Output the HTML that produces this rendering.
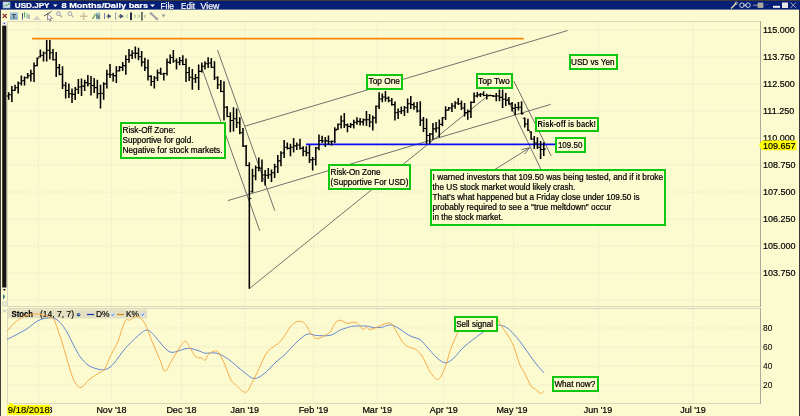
<!DOCTYPE html>
<html><head><meta charset="utf-8"><style>
html,body{margin:0;padding:0;width:800px;height:416px;overflow:hidden;background:#fcfbd0;}
body{position:relative;font-family:"Liberation Sans",sans-serif;}
#title{position:absolute;left:0;top:0;width:800px;height:10px;background:#051e76;border-top:1px solid #404040;box-sizing:border-box;}
#title span{position:absolute;top:0px;color:#fff;font-size:9px;line-height:9px;white-space:nowrap;}
svg{position:absolute;left:0;top:0;will-change:transform;}
.g{stroke:#e8e6c8;stroke-width:1;stroke-dasharray:1.25 1.25;}
.t{font-size:8.2px;fill:#000;stroke:#000;stroke-width:0.22px;}
.ax{font-size:9px;fill:#000;stroke:#000;stroke-width:0.2px;}
.ax2{font-size:8.4px;fill:#000;stroke:#000;stroke-width:0.05px;}
.dt{font-size:9px;fill:#000;stroke:#000;stroke-width:0.2px;}
.lg{font-size:8.4px;fill:#000;stroke:#000;stroke-width:0.15px;}
.tt{font-size:7.6px;fill:#fff;stroke:#fff;stroke-width:0.2px;}
</style></head><body>
<svg width="800" height="416" viewBox="0 0 800 416" style="top:0">
<rect x="0" y="10" width="800" height="406" fill="#fcfbd0"/>
<rect x="2.2" y="25.5" width="4.2" height="262" fill="#141414"/><rect x="2.2" y="21.7" width="4.2" height="3.6" fill="#e8e8f0"/><path d="M3.2 22.8H5.4L4.3 24.2Z" fill="#203080"/><path d="M2.8 289H5.8L4.3 291Z" fill="#202030"/><path d="M3 296.5L5 295V298Z" fill="#20a040"/><path d="M3.5 294.5V299" stroke="#3050a0" stroke-width="0.8"/><rect x="3" y="302" width="3" height="4" fill="none" stroke="#b8b8c8" stroke-width="0.7"/><path d="M3 309.5L6 312.5M6 309.5L3 312.5" stroke="#a8a8b8" stroke-width="0.8"/>
<rect x="0" y="0" width="1" height="416" fill="#404040"/>
<rect x="799" y="0" width="1" height="416" fill="#383838"/>
<line x1="8" y1="30.0" x2="760" y2="30.0" class="g"/>
<line x1="8" y1="57.0" x2="760" y2="57.0" class="g"/>
<line x1="8" y1="84.0" x2="760" y2="84.0" class="g"/>
<line x1="8" y1="111.0" x2="760" y2="111.0" class="g"/>
<line x1="8" y1="138.0" x2="760" y2="138.0" class="g"/>
<line x1="8" y1="165.0" x2="760" y2="165.0" class="g"/>
<line x1="8" y1="192.0" x2="760" y2="192.0" class="g"/>
<line x1="8" y1="219.0" x2="760" y2="219.0" class="g"/>
<line x1="8" y1="246.0" x2="760" y2="246.0" class="g"/>
<line x1="8" y1="273.0" x2="760" y2="273.0" class="g"/>
<line x1="8" y1="300.0" x2="760" y2="300.0" class="g"/>
<line x1="38.5" y1="22" x2="38.5" y2="306" class="g"/>
<line x1="38.5" y1="309" x2="38.5" y2="403" class="g"/>
<line x1="111.5" y1="22" x2="111.5" y2="306" class="g"/>
<line x1="111.5" y1="309" x2="111.5" y2="403" class="g"/>
<line x1="181.5" y1="22" x2="181.5" y2="306" class="g"/>
<line x1="181.5" y1="309" x2="181.5" y2="403" class="g"/>
<line x1="244.75" y1="22" x2="244.75" y2="306" class="g"/>
<line x1="244.75" y1="309" x2="244.75" y2="403" class="g"/>
<line x1="313.5" y1="22" x2="313.5" y2="306" class="g"/>
<line x1="313.5" y1="309" x2="313.5" y2="403" class="g"/>
<line x1="377.25" y1="22" x2="377.25" y2="306" class="g"/>
<line x1="377.25" y1="309" x2="377.25" y2="403" class="g"/>
<line x1="443.75" y1="22" x2="443.75" y2="306" class="g"/>
<line x1="443.75" y1="309" x2="443.75" y2="403" class="g"/>
<line x1="513.5" y1="22" x2="513.5" y2="306" class="g"/>
<line x1="513.5" y1="309" x2="513.5" y2="403" class="g"/>
<line x1="598.7" y1="22" x2="598.7" y2="306" class="g"/>
<line x1="598.7" y1="309" x2="598.7" y2="403" class="g"/>
<line x1="693" y1="22" x2="693" y2="306" class="g"/>
<line x1="693" y1="309" x2="693" y2="403" class="g"/>
<line x1="8" y1="328" x2="760" y2="328" class="g"/>
<line x1="8" y1="347" x2="760" y2="347" class="g"/>
<line x1="8" y1="366" x2="760" y2="366" class="g"/>
<line x1="8" y1="385" x2="760" y2="385" class="g"/>
<path d="M7.5 21.5H760.5M760.5 306.5H7.5V21.5" fill="none" stroke="#d9d8bc" stroke-width="1"/>
<path d="M7.5 308.5H760.5M760.5 403.5H7.5V308.5" fill="none" stroke="#d9d8bc" stroke-width="1"/>
<path d="M760.5 21V307M760.5 308V404" fill="none" stroke="#aaa99c" stroke-width="1"/>
<line x1="32" y1="38.6" x2="523.75" y2="38.6" stroke="#ff8800" stroke-width="1.8"/>
<line x1="217.5" y1="50" x2="274.75" y2="210.6" stroke="#585858" stroke-width="0.85"/>
<line x1="202" y1="68.5" x2="259.75" y2="230.8" stroke="#585858" stroke-width="0.85"/>
<line x1="227.9" y1="200.6" x2="550.6" y2="104.4" stroke="#585858" stroke-width="0.85"/>
<line x1="244.75" y1="126.25" x2="567.7" y2="30.5" stroke="#585858" stroke-width="0.85"/>
<line x1="249.5" y1="288.5" x2="486" y2="97.3" stroke="#585858" stroke-width="0.85"/>
<line x1="513.8" y1="81" x2="551.3" y2="156" stroke="#585858" stroke-width="0.85"/>
<line x1="507" y1="98.5" x2="541" y2="169.5" stroke="#585858" stroke-width="0.85"/>
<line x1="494" y1="170" x2="529.5" y2="147.8" stroke="#585858" stroke-width="0.85"/>
<path d="M529.5 147.8L521.5 149.6M529.5 147.8L524.6 154.2" stroke="#585858" stroke-width="0.85" fill="none"/>
<line x1="306" y1="144.3" x2="556" y2="144.3" stroke="#0a0af5" stroke-width="1.8"/>
<path d="M8.70 92.20V99.70M11.87 86.00V102.00M15.03 84.80V91.00M18.20 81.60V93.50M21.36 75.40V85.40M24.53 76.60V85.40M27.70 72.90V78.50M30.86 69.75V81.60M34.03 62.50V82.00M37.19 57.50V66.25M40.36 49.60V57.50M43.53 51.50V61.50M46.69 40.00V61.50M49.86 40.00V59.60M53.02 49.00V60.50M56.19 52.00V77.00M59.36 64.00V75.25M62.52 66.25V89.00M65.69 82.00V98.50M68.85 83.50V98.00M72.02 88.50V103.00M75.19 87.00V100.00M78.35 79.00V94.00M81.52 78.50V96.00M84.68 79.75V91.00M87.85 75.00V86.60M91.02 76.00V95.40M94.18 77.90V92.90M97.35 79.75V98.50M100.51 84.75V108.50M103.68 82.25V99.75M106.85 69.75V88.50M110.01 64.00V77.90M113.18 72.75V81.60M116.34 66.25V82.90M119.51 65.90V71.50M122.68 62.00V70.90M125.84 55.25V74.75M129.01 49.00V62.75M132.17 50.25V59.00M135.34 46.50V58.40M138.51 47.75V60.25M141.67 50.90V66.50M144.84 57.75V71.00M148.00 59.60V80.60M151.17 75.25V86.00M154.34 75.90V88.50M157.50 69.60V81.00M160.67 67.75V74.75M163.83 72.75V80.60M167.00 58.40V75.60M170.17 54.60V64.00M173.33 50.00V62.75M176.50 58.40V69.60M179.66 57.10V65.25M182.83 55.25V65.25M186.00 58.40V82.00M189.16 67.00V81.00M192.33 69.00V89.75M195.49 74.00V82.90M198.66 64.40V90.00M201.83 62.50V72.50M204.99 61.25V69.40M208.16 57.25V68.10M211.32 58.10V68.10M214.49 61.25V80.00M217.66 76.25V89.00M220.82 80.00V92.25M223.99 81.25V120.40M227.15 106.00V117.25M230.32 112.25V132.25M233.49 107.25V131.60M236.65 108.50V127.90M239.82 117.25V134.20M242.98 127.90V146.90M246.15 145.00V166.25M249.32 162.25V288.75M252.48 168.75V192.50M255.65 165.60V180.30M258.81 157.50V171.25M261.98 159.40V181.90M265.15 170.00V185.60M268.31 168.10V178.75M271.48 169.40V181.90M274.64 163.75V178.10M277.81 155.00V173.10M280.98 151.25V166.25M284.14 140.00V158.10M287.31 142.50V149.40M290.47 143.75V156.25M293.64 138.10V152.50M296.81 142.50V150.00M299.97 138.75V149.40M303.14 146.25V156.25M306.30 146.25V156.25M309.47 145.00V163.00M312.64 156.90V170.60M315.80 146.90V165.50M318.97 134.40V150.20M322.13 135.70V143.00M325.30 137.00V147.00M328.47 135.40V144.75M331.63 140.40V145.40M334.80 127.25V142.90M337.96 123.50V130.00M341.13 115.40V128.50M344.30 112.90V127.90M347.46 123.50V132.25M350.63 122.90V127.90M353.79 119.75V128.50M356.96 117.25V124.75M360.13 117.90V125.40M363.29 118.50V125.40M366.46 111.00V126.00M369.62 114.10V127.25M372.79 115.40V130.40M375.96 105.40V123.50M379.12 92.25V109.10M382.29 93.50V102.25M385.45 91.00V101.60M388.62 96.60V102.25M391.79 97.90V105.40M394.95 101.60V120.40M398.12 108.50V119.10M401.28 106.60V114.10M404.45 106.00V116.00M407.62 98.50V112.90M410.78 96.00V109.10M413.95 102.25V109.75M417.11 101.90V112.50M420.28 101.25V126.00M423.45 117.00V131.90M426.61 118.50V143.75M429.78 133.10V143.75M432.94 123.00V139.40M436.11 122.00V132.50M439.28 119.50V137.50M442.44 117.00V126.25M445.61 106.25V120.00M448.77 106.90V110.60M451.94 103.10V111.90M455.11 101.25V108.75M458.27 98.10V105.00M461.44 100.60V110.00M464.60 103.10V116.60M467.77 109.40V119.70M470.94 101.25V118.10M474.10 92.50V103.10M477.27 91.90V97.50M480.43 93.10V96.90M483.60 91.25V96.25M486.77 93.75V99.40M489.93 94.40V96.25M493.10 95.00V96.90M496.26 93.10V101.25M499.43 89.40V101.25M502.60 89.40V108.00M505.76 93.10V106.00M508.93 96.90V104.70M512.09 101.90V111.60M515.26 103.75V115.00M518.43 101.90V110.60M521.59 101.25V114.40M524.76 117.50V127.50M527.92 118.75V131.10M531.09 131.25V139.75M534.26 136.00V149.10M537.42 137.25V149.10M540.59 141.00V159.10M543.75 142.25V156.00" stroke="#000" stroke-width="1.55" fill="none"/>
<path d="M6.70 95.95H8.70M8.70 94.78H10.70M9.87 94.78H11.87M11.87 90.34H13.87M13.03 90.20H15.03M15.03 87.69H17.03M16.20 87.69H18.20M18.20 83.26H20.20M19.36 83.26H21.36M21.36 80.76H23.36M22.53 80.76H24.53M24.53 77.82H26.53M25.70 77.70H27.70M27.70 75.69H29.70M28.86 75.69H30.86M30.86 73.62H32.86M32.03 73.62H34.03M34.03 66.03H36.03M35.19 65.45H37.19M37.19 58.30H39.19M38.36 56.70H40.36M40.36 55.32H42.36M41.53 55.32H43.53M43.53 53.05H45.53M44.69 53.05H46.69M46.69 50.18H48.69M47.86 50.18H49.86M49.86 52.77H51.86M51.02 52.77H53.02M53.02 59.70H55.02M54.19 59.70H56.19M56.19 67.58H58.19M57.36 67.58H59.36M59.36 74.42H61.36M60.52 74.42H62.52M62.52 85.20H64.52M63.69 85.20H65.69M65.69 90.55H67.69M66.85 90.55H68.85M68.85 93.75H70.85M70.02 93.75H72.02M72.02 94.40H74.02M73.19 94.40H75.19M75.19 89.30H77.19M76.35 89.30H78.35M78.35 86.95H80.35M79.52 86.95H81.52M81.52 86.12H83.52M82.68 86.12H84.68M84.68 82.63H86.68M85.85 82.63H87.85M87.85 83.74H89.85M89.02 83.74H91.02M91.02 85.52H93.02M92.18 85.52H94.18M94.18 87.64H96.18M95.35 87.64H97.35M97.35 93.62H99.35M98.51 93.62H100.51M100.51 93.25H102.51M101.68 93.25H103.68M103.68 83.88H105.68M104.85 83.88H106.85M106.85 74.22H108.85M108.01 74.22H110.01M110.01 74.69H112.01M111.18 74.69H113.18M113.18 75.61H115.18M114.34 75.61H116.34M116.34 71.05H118.34M117.51 70.70H119.51M119.51 67.35H121.51M120.68 67.35H122.68M122.68 65.58H124.68M123.84 65.58H125.84M125.84 59.52H127.84M127.01 59.52H129.01M129.01 55.12H131.01M130.17 55.12H132.17M132.17 53.32H134.17M133.34 53.32H135.34M135.34 53.38H137.34M136.51 53.38H138.51M138.51 56.82H140.51M139.67 56.82H141.67M141.67 62.11H143.67M142.84 62.11H144.84M144.84 67.81H146.84M146.00 67.81H148.00M148.00 76.41H150.00M149.17 76.41H151.17M151.17 81.57H153.17M152.34 81.57H154.34M154.34 78.06H156.34M155.50 78.06H157.50M157.50 72.87H159.50M158.67 72.87H160.67M160.67 73.95H162.67M161.83 73.95H163.83M163.83 73.55H165.83M165.00 73.55H167.00M167.00 62.38H169.00M168.17 62.38H170.17M170.17 57.54H172.17M171.33 57.54H173.33M173.33 60.95H175.33M174.50 60.95H176.50M176.50 62.30H178.50M177.66 62.30H179.66M179.66 60.62H181.66M180.83 60.62H182.83M182.83 64.45H184.83M184.00 64.45H186.00M186.00 72.48H188.00M187.16 72.48H189.16M189.16 77.22H191.16M190.33 77.22H192.33M192.33 78.82H194.33M193.49 78.82H195.49M195.49 77.70H197.49M196.66 77.70H198.66M198.66 71.38H200.66M199.83 71.38H201.83M201.83 66.19H203.83M202.99 66.19H204.99M204.99 63.73H206.99M206.16 63.73H208.16M208.16 62.93H210.16M209.32 62.93H211.32M211.32 67.30H213.32M212.49 67.30H214.49M214.49 77.82H216.49M215.66 77.82H217.66M217.66 84.72H219.66M218.82 84.72H220.82M220.82 91.45H222.82M221.99 91.45H223.99M223.99 107.31H225.99M225.15 107.31H227.15M227.15 116.45H229.15M228.32 116.45H230.32M230.32 120.56H232.32M231.49 120.56H233.49M233.49 118.69H235.49M234.65 118.69H236.65M236.65 122.71H238.65M237.82 122.71H239.82M239.82 132.73H241.82M240.98 132.73H242.98M242.98 146.10H244.98M244.15 146.10H246.15M246.15 165.45H248.15M247.32 165.45H249.32M249.32 198.57H251.32M250.48 191.70H252.48M252.48 176.02H254.48M253.65 176.02H255.65M255.65 167.81H257.65M256.81 167.81H258.81M258.81 168.14H260.81M259.98 168.14H261.98M261.98 174.94H263.98M263.15 174.94H265.15M265.15 175.18H267.15M266.31 175.18H268.31M268.31 174.76H270.31M269.48 174.76H271.48M271.48 172.81H273.48M272.64 172.81H274.64M274.64 166.80H276.64M275.81 166.80H277.81M277.81 160.87H279.81M278.98 160.87H280.98M280.98 152.93H282.98M282.14 152.93H284.14M284.14 147.19H286.14M285.31 147.19H287.31M287.31 148.38H289.31M288.47 148.38H290.47M290.47 147.18H292.47M291.64 147.18H293.64M293.64 145.87H295.64M294.81 145.87H296.81M296.81 144.94H298.81M297.97 144.94H299.97M299.97 148.38H301.97M301.14 148.38H303.14M303.14 151.25H305.14M304.30 151.25H306.30M306.30 152.90H308.30M307.47 152.90H309.47M309.47 159.85H311.47M310.64 159.85H312.64M312.64 159.22H314.64M313.80 159.22H315.80M315.80 147.86H317.80M316.97 147.86H318.97M318.97 140.53H320.97M320.13 140.53H322.13M322.13 140.94H324.13M323.30 140.94H325.30M325.30 140.84H327.30M326.47 140.84H328.47M328.47 141.77H330.47M329.63 141.77H331.63M331.63 141.20H333.63M332.80 141.20H334.80M334.80 130.08H336.80M335.96 129.20H337.96M337.96 124.30H339.96M339.13 124.30H341.13M341.13 121.02H343.13M342.30 121.02H344.30M344.30 124.88H346.30M345.46 124.88H347.46M347.46 126.39H349.46M348.63 126.39H350.63M350.63 124.63H352.63M351.79 124.63H353.79M353.79 122.25H355.79M354.96 122.25H356.96M356.96 121.39H358.96M358.13 121.39H360.13M360.13 121.83H362.13M361.29 121.83H363.29M363.29 119.88H365.29M364.46 119.88H366.46M366.46 119.81H368.46M367.62 119.81H369.62M369.62 122.01H371.62M370.79 122.01H372.79M372.79 117.83H374.79M373.96 117.83H375.96M375.96 106.20H377.96M377.12 106.20H379.12M379.12 99.00H381.12M380.29 99.00H382.29M382.29 96.93H384.29M383.45 96.93H385.45M385.45 98.17H387.45M386.62 98.17H388.62M388.62 100.76H390.62M389.79 100.76H391.79M391.79 104.60H393.79M392.95 104.60H394.95M394.95 112.68H396.95M396.12 112.68H398.12M398.12 111.73H400.12M399.28 111.73H401.28M401.28 110.74H403.28M402.45 110.74H404.45M404.45 107.82H406.45M405.62 107.82H407.62M407.62 103.81H409.62M408.78 103.81H410.78M410.78 104.62H412.78M411.95 104.62H413.95M413.95 106.72H415.95M415.11 106.72H417.11M417.11 111.06H419.11M418.28 111.06H420.28M420.28 120.12H422.28M421.45 120.12H423.45M423.45 128.45H425.45M424.61 128.45H426.61M426.61 135.50H428.61M427.78 135.50H429.78M429.78 134.09H431.78M430.94 134.09H432.94M432.94 128.83H434.94M434.11 128.83H436.11M436.11 128.00H438.11M437.28 128.00H439.28M439.28 124.38H441.28M440.44 124.38H442.44M442.44 117.80H444.44M443.61 117.80H445.61M445.61 110.50H447.61M446.77 109.80H448.77M448.77 108.00H450.77M449.94 108.00H451.94M451.94 106.00H453.94M453.11 106.00H455.11M455.11 102.93H457.11M456.27 102.93H458.27M458.27 103.80H460.27M459.44 103.80H461.44M461.44 108.03H463.44M462.60 108.03H464.60M464.60 112.67H466.60M465.77 112.67H467.77M467.77 111.62H469.77M468.94 111.62H470.94M470.94 102.55H472.94M472.10 102.30H474.10M474.10 95.94H476.10M475.27 95.94H477.27M477.27 94.88H479.27M478.43 94.88H480.43M480.43 94.25H482.43M481.60 94.25H483.60M483.60 95.44H485.60M484.77 95.44H486.77M486.77 95.83H488.77M487.93 95.45H489.93M489.93 95.45H491.93M491.10 95.80H493.10M493.10 96.10H495.10M494.26 96.10H496.26M496.26 96.06H498.26M497.43 96.06H499.43M499.43 97.35H501.43M500.60 97.35H502.60M502.60 99.21H504.60M503.76 99.21H505.76M505.76 100.30H507.76M506.93 100.30H508.93M508.93 103.90H510.93M510.09 103.90H512.09M512.09 108.33H514.09M513.26 108.33H515.26M515.26 107.50H517.26M516.43 107.50H518.43M518.43 107.19H520.43M519.59 107.19H521.59M521.59 113.60H523.59M522.76 118.30H524.76M524.76 123.95H526.76M525.92 123.95H527.92M527.92 130.30H529.92M529.09 132.05H531.09M531.09 138.95H533.09M532.26 138.95H534.26M534.26 142.93H536.26M535.42 142.93H537.42M537.42 147.30H539.42M538.59 147.30H540.59M540.59 149.50H542.59M541.75 149.50H543.75M543.75 149.12H545.75" stroke="#000" stroke-width="1.1" fill="none"/>
<rect x="8" y="309.5" width="139" height="9" fill="#e2e0c0"/>
<text x="11.5" y="317.2" class="lg" font-weight="bold" textLength="21.5" lengthAdjust="spacingAndGlyphs">Stoch</text>
<text x="40" y="317.2" class="lg" textLength="34" lengthAdjust="spacingAndGlyphs">(14, 7, 7)</text>
<circle cx="78.6" cy="314.8" r="1.8" fill="#34508a"/><circle cx="79.2" cy="314.2" r="0.7" fill="#a8c0e8"/>
<line x1="87" y1="314.5" x2="94" y2="314.5" stroke="#1830c0" stroke-width="1.2"/>
<text x="96" y="317" class="lg">D%</text>
<rect x="110.8" y="312.8" width="3.6" height="3.6" fill="#dce8f8"/><path d="M111.4 314.6l1 1.1 1.6-2" stroke="#2060d0" stroke-width="0.8" fill="none"/>
<line x1="117" y1="314.5" x2="124" y2="314.5" stroke="#e08010" stroke-width="1.2"/>
<text x="126" y="317" class="lg">K%</text>
<rect x="140.8" y="312.8" width="3.6" height="3.6" fill="#dce8f8"/><path d="M141.4 314.6l1 1.1 1.6-2" stroke="#2060d0" stroke-width="0.8" fill="none"/>
<path d="M7,339.5C10.00,337.92 19.92,333.08 25,330C30.08,326.92 33.88,322.98 37.5,321C41.12,319.02 44.03,318.58 46.7,318.1C49.37,317.62 51.25,317.35 53.5,318.1C55.75,318.85 57.97,320.30 60.2,322.6C62.43,324.90 64.65,328.10 66.9,331.9C69.15,335.70 71.45,341.20 73.7,345.4C75.95,349.60 77.88,353.73 80.4,357.1C82.92,360.47 86.00,363.63 88.8,365.6C91.60,367.57 94.67,368.20 97.2,368.9C99.73,369.60 101.87,370.08 104,369.8C106.13,369.52 108.17,368.50 110,367.2C111.83,365.90 112.50,365.07 115,362C117.50,358.93 121.25,353.04 125,348.75C128.75,344.46 133.83,339.38 137.5,336.25C141.17,333.12 144.08,330.00 147,330C149.92,330.00 152.50,333.75 155,336.25C157.50,338.75 159.50,342.38 162,345C164.50,347.62 167.42,350.96 170,352C172.58,353.04 175.00,351.79 177.5,351.25C180.00,350.71 182.58,349.17 185,348.75C187.42,348.33 189.50,348.33 192,348.75C194.50,349.17 197.80,350.51 200,351.25C202.20,351.99 202.38,352.88 205.2,353.2C208.02,353.52 212.98,352.15 216.9,353.2C220.82,354.25 224.20,356.35 228.7,359.5C233.20,362.65 239.68,368.93 243.9,372.1C248.12,375.27 250.65,378.22 254,378.5C257.35,378.78 260.33,376.55 264,373.8C267.67,371.05 272.50,365.22 276,362C279.50,358.78 281.93,357.43 285,354.5C288.07,351.57 291.02,347.65 294.4,344.4C297.78,341.15 302.43,336.70 305.3,335C308.17,333.30 309.78,334.12 311.6,334.2C313.43,334.28 313.13,335.32 316.25,335.5C319.37,335.68 326.39,336.17 330.3,335.3C334.21,334.43 336.83,331.60 339.7,330.3C342.57,329.00 345.16,328.20 347.5,327.5C349.84,326.80 350.62,326.33 353.75,326.1C356.88,325.87 362.88,325.87 366.25,326.1C369.62,326.33 371.39,327.32 374,327.5C376.61,327.68 378.77,327.57 381.9,327.2C385.03,326.83 388.12,323.87 392.8,325.3C397.48,326.73 405.47,333.43 410,335.8C414.53,338.17 417.18,337.65 420,339.5C422.82,341.35 424.07,343.83 426.9,346.9C429.73,349.97 433.90,355.23 437,357.9C440.10,360.57 442.68,362.90 445.5,362.9C448.32,362.90 450.82,360.57 453.9,357.9C456.98,355.23 459.65,350.83 464,346.9C468.35,342.97 475.67,337.45 480,334.3C484.33,331.15 487.12,329.52 490,328C492.88,326.48 495.00,325.50 497.3,325.2C499.60,324.90 501.63,325.30 503.8,326.2C505.97,327.10 507.77,328.25 510.3,330.6C512.83,332.95 516.12,336.70 519,340.3C521.88,343.90 524.72,348.23 527.6,352.2C530.48,356.17 533.58,360.67 536.3,364.1C539.02,367.53 542.63,371.35 543.9,372.8" fill="none" stroke="#5a7ed0" stroke-width="0.95"/>
<path d="M7,331.25C8.33,329.79 12.00,325.00 15,322.5C18.00,320.00 21.25,317.71 25,316.25C28.75,314.79 33.32,313.52 37.5,313.75C41.68,313.98 47.43,316.83 50.1,317.6C52.77,318.38 52.38,316.87 53.5,318.4C54.62,319.93 55.40,322.87 56.8,326.8C58.20,330.73 60.22,336.67 61.9,342C63.58,347.33 65.22,353.18 66.9,358.8C68.58,364.42 70.48,371.50 72,375.7C73.52,379.90 74.50,382.03 76,384C77.50,385.97 78.87,388.17 81,387.5C83.13,386.83 86.10,382.25 88.8,380C91.50,377.75 94.67,375.70 97.2,374C99.73,372.30 101.87,372.63 104,369.8C106.13,366.97 108.58,359.97 110,357C111.42,354.03 111.17,354.62 112.5,352C113.83,349.38 115.92,346.38 118,341.25C120.08,336.12 123.00,324.79 125,321.25C127.00,317.71 127.92,320.83 130,320C132.08,319.17 135.00,315.62 137.5,316.25C140.00,316.88 142.58,319.58 145,323.75C147.42,327.92 149.50,335.21 152,341.25C154.50,347.29 157.83,355.00 160,360C162.17,365.00 163.00,371.25 165,371.25C167.00,371.25 169.83,363.54 172,360C174.17,356.46 175.83,353.12 178,350C180.17,346.88 183.00,341.63 185,341.25C187.00,340.87 188.18,345.07 190,347.7C191.82,350.32 193.93,355.32 195.9,357C197.87,358.68 200.25,357.25 201.8,357.8C203.35,358.35 204.08,360.87 205.2,360.3C206.32,359.73 206.97,355.95 208.5,354.4C210.03,352.85 212.72,351.28 214.4,351C216.08,350.72 217.05,350.87 218.6,352.7C220.15,354.53 221.73,357.65 223.7,362C225.67,366.35 228.43,375.02 230.4,378.8C232.37,382.58 232.97,382.45 235.5,384.7C238.03,386.95 242.80,392.72 245.6,392.3C248.40,391.88 250.07,386.13 252.3,382.2C254.53,378.27 256.48,373.75 259,368.7C261.52,363.65 263.75,356.53 267.4,351.9C271.05,347.27 276.92,345.28 280.9,340.9C284.88,336.52 288.23,328.88 291.25,325.6C294.27,322.33 296.66,321.52 299,321.25C301.34,320.98 303.47,322.23 305.3,324C307.13,325.77 308.43,329.60 310,331.9C311.57,334.20 313.13,336.77 314.7,337.8C316.27,338.83 317.58,338.57 319.4,338.1C321.22,337.63 323.78,336.03 325.6,335C327.42,333.97 328.73,333.85 330.3,331.9C331.87,329.95 333.43,325.25 335,323.3C336.57,321.35 337.62,320.20 339.7,320.2C341.78,320.20 345.16,322.97 347.5,323.3C349.84,323.63 351.93,322.08 353.75,322.2C355.57,322.32 356.84,322.78 358.4,324C359.96,325.22 361.79,328.97 363.1,329.5C364.41,330.03 365.07,327.20 366.25,327.2C367.43,327.20 368.12,329.63 370.2,329.5C372.28,329.37 376.28,327.36 378.75,326.4C381.22,325.44 382.92,324.19 385,323.75C387.08,323.31 389.17,322.14 391.25,323.75C393.33,325.36 395.42,330.09 397.5,333.4C399.58,336.71 401.67,341.25 403.75,343.6C405.83,345.95 407.82,346.43 410,347.5C412.18,348.57 414.53,348.13 416.8,350C419.07,351.87 421.35,355.00 423.6,358.7C425.85,362.40 427.83,368.77 430.3,372.2C432.77,375.63 435.87,380.28 438.4,379.3C440.93,378.32 443.48,371.27 445.5,366.3C447.52,361.33 448.42,355.25 450.5,349.5C452.58,343.75 456.25,336.38 458,331.8C459.75,327.22 457.33,324.13 461,322C464.67,319.87 474.00,319.42 480,319C486.00,318.58 493.93,319.20 497,319.5C500.07,319.80 497.27,319.13 498.4,320.8C499.53,322.47 501.82,326.43 503.8,329.5C505.78,332.57 508.50,335.95 510.3,339.2C512.10,342.45 512.98,344.67 514.6,349C516.22,353.33 518.37,361.23 520,365.2C521.63,369.17 522.58,369.37 524.4,372.8C526.22,376.23 529.10,383.10 530.9,385.8C532.70,388.50 533.58,387.75 535.2,389C536.82,390.25 539.15,392.93 540.6,393.3C542.05,393.67 543.35,391.55 543.9,391.2" fill="none" stroke="#f6a640" stroke-width="0.95"/>
<rect x="121" y="123" width="104" height="35" fill="#fcfbd0" stroke="#10c810" stroke-width="2"/>
<text x="122.5" y="132.90" class="t" textLength="52.8" lengthAdjust="spacingAndGlyphs">Risk-Off Zone:</text>
<text x="122.5" y="143.05" class="t" textLength="71" lengthAdjust="spacingAndGlyphs">Supportive for gold.</text>
<text x="122.5" y="153.20" class="t" textLength="100" lengthAdjust="spacingAndGlyphs">Negative for stock markets.</text>
<rect x="367" y="75" width="35" height="14" fill="#fcfbd0" stroke="#10c810" stroke-width="2"/>
<text x="368.5" y="84.20" class="t" textLength="31.5" lengthAdjust="spacingAndGlyphs">Top One</text>
<rect x="477" y="74" width="35" height="14" fill="#fcfbd0" stroke="#10c810" stroke-width="2"/>
<text x="477.9" y="83.70" class="t" textLength="32" lengthAdjust="spacingAndGlyphs">Top Two</text>
<rect x="570" y="55" width="47" height="14" fill="#fcfbd0" stroke="#10c810" stroke-width="2"/>
<text x="571" y="64.70" class="t" textLength="43.5" lengthAdjust="spacingAndGlyphs">USD vs Yen</text>
<rect x="329" y="165" width="81" height="24" fill="#fcfbd0" stroke="#10c810" stroke-width="2"/>
<text x="330.6" y="174.50" class="t" textLength="50" lengthAdjust="spacingAndGlyphs">Risk-On Zone</text>
<text x="330.6" y="184.90" class="t" textLength="77.8" lengthAdjust="spacingAndGlyphs">(Supportive For USD)</text>
<rect x="536" y="118" width="62" height="13" fill="#fcfbd0" stroke="#10c810" stroke-width="2"/>
<text x="537.6" y="127.40" class="t" font-weight="bold" style="font-size:8.5px;stroke-width:0" textLength="58.5" lengthAdjust="spacingAndGlyphs">Risk-off is back!</text>
<rect x="556" y="138" width="29" height="14" fill="#fcfbd0" stroke="#10c810" stroke-width="2"/>
<text x="557.9" y="148.20" class="t" style="font-size:9.2px" textLength="24.5" lengthAdjust="spacingAndGlyphs">109.50</text>
<rect x="431" y="170" width="234" height="55" fill="#fcfbd0" stroke="#10c810" stroke-width="2"/>
<text x="432.6" y="179.70" class="t" textLength="230.5" lengthAdjust="spacingAndGlyphs">I warned investors that 109.50 was being tested, and if it broke</text>
<text x="432.6" y="189.85" class="t" textLength="142.8" lengthAdjust="spacingAndGlyphs">the US stock market would likely crash.</text>
<text x="432.6" y="200.00" class="t" textLength="207" lengthAdjust="spacingAndGlyphs">That’s what happened but a Friday close under 109.50 is</text>
<text x="432.6" y="210.15" class="t" textLength="178.7" lengthAdjust="spacingAndGlyphs">probably required to see a &quot;true meltdown&quot; occur</text>
<text x="432.6" y="220.30" class="t" textLength="70.5" lengthAdjust="spacingAndGlyphs">in the stock market.</text>
<rect x="455" y="317" width="42" height="14" fill="#fcfbd0" stroke="#10c810" stroke-width="2"/>
<text x="456.2" y="326.60" class="t" textLength="36.8" lengthAdjust="spacingAndGlyphs">Sell signal</text>
<rect x="553" y="377" width="45" height="14" fill="#fcfbd0" stroke="#10c810" stroke-width="2"/>
<text x="554.4" y="386.60" class="t" textLength="40.8" lengthAdjust="spacingAndGlyphs">What now?</text>
<rect x="0" y="0" width="800" height="9.6" fill="#051e76"/>
<rect x="0" y="0" width="800" height="1" fill="#3c3c3c"/>
<text x="14.8" y="8" class="tt" font-weight="bold" textLength="34.7" lengthAdjust="spacingAndGlyphs">USD.JPY</text>
<path d="M53 4.5H57.5L55.25 7Z" fill="#fff"/>
<text x="61.5" y="8" class="tt" font-weight="bold" textLength="86.5" lengthAdjust="spacingAndGlyphs">8 Months/Daily bars</text>
<path d="M150 4.5H155L152.5 7Z" fill="#fff"/>
<text x="160.5" y="8.8" class="tt" style="font-size:8.4px" textLength="13.5" lengthAdjust="spacingAndGlyphs">File</text>
<text x="181" y="8.8" class="tt" style="font-size:8.4px" textLength="14" lengthAdjust="spacingAndGlyphs">Edit</text>
<text x="200.5" y="8.8" class="tt" style="font-size:8.4px" textLength="19" lengthAdjust="spacingAndGlyphs">View</text>
<rect x="3" y="2" width="7" height="6" fill="#d8e0f0"/><path d="M3.5 7L6 4.5L7.5 5.5L9.5 3" stroke="#20a040" stroke-width="1" fill="none"/><rect x="3" y="2" width="7" height="6" fill="none" stroke="#a0b0d0" stroke-width="0.6"/>
<path d="M731 8.5L736 3.5" stroke="#e8e0b0" stroke-width="1.3"/><circle cx="736.2" cy="3.2" r="1.2" fill="none" stroke="#e8e0b0" stroke-width="0.8"/>
<circle cx="742" cy="5.2" r="2.3" fill="none" stroke="#e0e0e0" stroke-width="0.9"/><circle cx="748" cy="5.2" r="2.3" fill="none" stroke="#e0e0e0" stroke-width="0.9"/><line x1="743" y1="5.2" x2="747" y2="5.2" stroke="#e0e0e0" stroke-width="0.8"/>
<path d="M753 5.2H758M758 3V7.5H763V3Z" stroke="#a8a8a0" stroke-width="0.9" fill="#a8a8a0"/><circle cx="767" cy="4.5" r="0.5" fill="#a0a0a0"/>
<rect x="773" y="5.8" width="7" height="2" fill="#f0f0f0"/><rect x="782" y="2.5" width="6" height="5.5" fill="#e8e8e8"/><path d="M790.5 2.5L796 8M796 2.5L790.5 8" stroke="#c8c8d8" stroke-width="0.8"/>
<path d="M2.7 13.8L6.7 17.8M6.7 13.8L2.7 17.8" stroke="#801818" stroke-width="1.2"/>
<defs><linearGradient id="tg" x1="0" y1="0" x2="0" y2="1"><stop offset="0" stop-color="#b0d0e4"/><stop offset="1" stop-color="#7aa2c2"/></linearGradient></defs>
<rect x="10" y="12.2" width="7.8" height="7.5" fill="url(#tg)"/><path d="M11.9 14.5H15.9M13.9 14.5V18.6" stroke="#4a4a4a" stroke-width="1.1"/>
<rect x="22" y="13" width="1" height="6.5" fill="#4858a0"/><rect x="24" y="12" width="1" height="5.5" fill="#58a070"/><rect x="26.5" y="13" width="1" height="5.5" fill="#70b088"/><rect x="28.5" y="14.5" width="1" height="4.5" fill="#6070a8"/>
<path d="M33 20L37 15.5L41 20Z" fill="#d4d4c4"/>
<path d="M44 16L51.5 11.5" stroke="#404040" stroke-width="0.9"/><path d="M47.5 13.5L52.5 18.5L50 18.8L51 20.5L49.8 20.8L48.8 19L47.5 20Z" fill="#f4f4f8" stroke="#505050" stroke-width="0.6"/>
<circle cx="58.5" cy="13.7" r="1.8" fill="none" stroke="#a8a8b0" stroke-width="1.1"/><path d="M59.8 15L62 17.2" stroke="#a8a8b0" stroke-width="1.3"/>
<circle cx="70" cy="13.7" r="1.8" fill="none" stroke="#b0b0b8" stroke-width="1.1"/><path d="M71.3 15L73.5 17.2" stroke="#b0b0b8" stroke-width="1.3"/>
<path d="M80 16.2H87.5M83.7 12.5V20" stroke="#cdbd9d" stroke-width="1.4"/>
<path d="M92.5 19L95.5 14" stroke="#489048" stroke-width="1.1"/><rect x="96" y="12.5" width="4.2" height="7" fill="#a8c8c0"/><path d="M96.8 18.8V14.5L99.2 18.8V14.5" stroke="#305060" stroke-width="0.7" fill="none"/>
<path d="M104.5 13V19" stroke="#6070a0" stroke-width="0.9"/><path d="M106 16.2H108M108 14.2L111 16.2L108 18.2Z" fill="#405070" stroke="#405070" stroke-width="0.6"/>
<path d="M117 13H115.5V19H117" stroke="#8090a8" stroke-width="0.8" fill="none"/><path d="M118 16.2H120M120 14.2L123.5 16.2L120 18.2Z" fill="#405070" stroke="#405070" stroke-width="0.6"/>
<path d="M128 14.5L126 16.2L128 18" stroke="#80b080" stroke-width="0.8" fill="none"/><rect x="130" y="12.2" width="2" height="8" rx="0.8" fill="#203040"/><path d="M134 14.5L136 16.2L134 18" stroke="#80b080" stroke-width="0.8" fill="none"/>
<path d="M138 14.5L140 16.2L138 18" stroke="#80b080" stroke-width="0.8" fill="none"/><rect x="141.3" y="12" width="1.3" height="8.5" fill="#203040"/><path d="M146 14.5L144 16.2L146 18" stroke="#80b080" stroke-width="0.8" fill="none"/>
<path d="M151 13.5L157 19" stroke="#a0a0a8" stroke-width="2"/><circle cx="151" cy="13.5" r="1.3" fill="#a0a0a8"/><circle cx="157" cy="19" r="1.3" fill="#a0a0a8"/>
<path d="M161.5 14.5H165.5L163.5 17.5Z" fill="#9898a0"/>
<text x="763" y="33.2" class="ax">115.000</text>
<text x="763" y="60.2" class="ax">113.750</text>
<text x="763" y="87.2" class="ax">112.500</text>
<text x="763" y="114.2" class="ax">111.250</text>
<text x="763" y="141.2" class="ax">110.000</text>
<text x="763" y="168.2" class="ax">108.750</text>
<text x="763" y="195.2" class="ax">107.500</text>
<text x="763" y="222.2" class="ax">106.250</text>
<text x="763" y="249.2" class="ax">105.000</text>
<text x="763" y="276.2" class="ax">103.750</text>
<path d="M759 145.4L762 140.6H796.6V150.2H762Z" fill="#ffff00"/>
<text x="763" y="148.6" class="ax">109.657</text>
<text x="763" y="331.0" class="ax2">80</text>
<text x="763" y="350.0" class="ax2">60</text>
<text x="763" y="369.0" class="ax2">40</text>
<text x="763" y="388.0" class="ax2">20</text>
<text x="38.5" y="413" class="dt" text-anchor="middle">Oct '18</text>
<text x="111.5" y="413" class="dt" text-anchor="middle">Nov '18</text>
<text x="181.5" y="413" class="dt" text-anchor="middle">Dec '18</text>
<text x="244.75" y="413" class="dt" text-anchor="middle">Jan '19</text>
<text x="313.5" y="413" class="dt" text-anchor="middle">Feb '19</text>
<text x="377.25" y="413" class="dt" text-anchor="middle">Mar '19</text>
<text x="443.75" y="413" class="dt" text-anchor="middle">Apr '19</text>
<text x="512" y="413" class="dt" text-anchor="middle">May '19</text>
<text x="598" y="413" class="dt" text-anchor="middle">Jun '19</text>
<text x="693" y="413" class="dt" text-anchor="middle">Jul '19</text>
<path d="M7.2 405H50V414.7H7.2Z" fill="#ffff00"/><path d="M9 405L11.5 402.5L14 405Z" fill="#ffff00"/>
<text x="7.8" y="413" class="dt" textLength="42" lengthAdjust="spacingAndGlyphs" style="stroke:#000;stroke-width:0.15px">9/18/2018</text>
</svg>

</body></html>
